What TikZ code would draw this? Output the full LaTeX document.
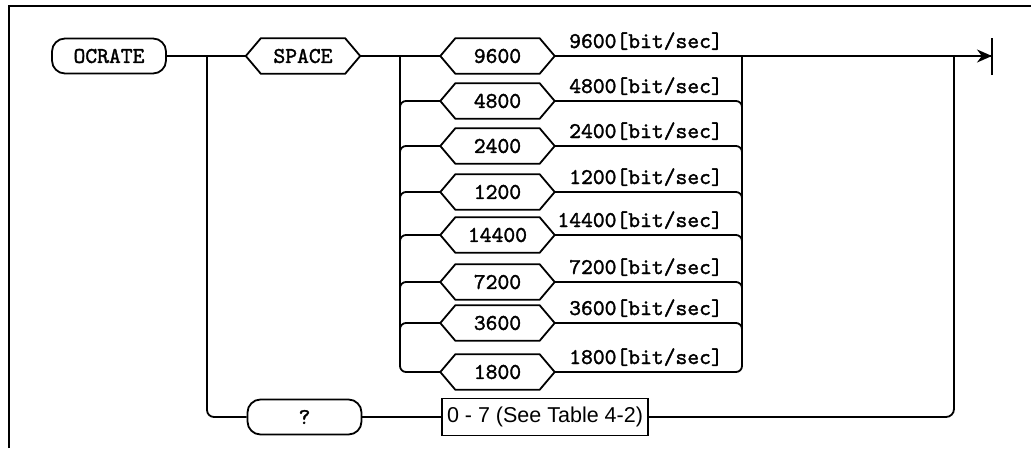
\documentclass[tikz,border=0pt]{standalone}
\usepackage{fontspec}
\setmainfont{Liberation Sans}
\newfontfamily\cour{lmmono10-regular}[Extension=.otf, FakeBold=1.6]
\usetikzlibrary{arrows.meta}
\newcommand\courfont{\cour\fontsize{22.5}{22.5}\selectfont}
\tikzset{
  line/.style={line width=1.8pt},
  term/.style={draw, line width=1.8pt, rounded corners=13pt, minimum width=114pt, minimum height=35pt, inner sep=0pt, font=\courfont},
  hexbox/.style={minimum width=114pt, minimum height=35pt, inner sep=0pt, font=\courfont},
  rate/.style={anchor=base east, inner sep=0pt, font=\courfont},
  plain/.style={draw, line width=1.8pt, minimum width=206pt, minimum height=37pt, inner sep=0pt, font=\fontsize{21.5}{21.5}\selectfont},
}
\newcommand\hexnode[3]{%
  \node[hexbox] (#1) at (#2) {#3};
  \draw[line, line join=miter] (#1.west) -- ([xshift=15pt]#1.north west) -- ([xshift=-15pt]#1.north east) -- (#1.east) -- ([xshift=-15pt]#1.south east) -- ([xshift=15pt]#1.south west) -- cycle;
}
\begin{document}
\begin{tikzpicture}[x=1pt,y=-1pt]
\useasboundingbox (0,0) rectangle (1031,448);
% frame
\draw[line width=1.5pt] (9,448) -- (9,6) -- (1031,6);
% start and first choice
\node[term] (ocrate) at (109,56) {OCRATE};
\hexnode{space}{303,56}{SPACE}
\node[term] (query) at (304.5,417) {?};
\node[plain] (table) at (545,417) {0 - 7 (See Table 4-2)};
% rates
\hexnode{r9600}{497.5,56}{9600}
\hexnode{r4800}{497.5,101}{4800}
\hexnode{r2400}{497.5,146}{2400}
\hexnode{r1200}{497.5,192}{1200}
\hexnode{r14400}{497.5,235}{14400}
\hexnode{r7200}{497.5,282}{7200}
\hexnode{r3600}{497.5,323}{3600}
\hexnode{r1800}{497.5,372}{1800}
\node[rate] (l9600) at (723,48) {9600[bit/sec]};
\node[rate] (l4800) at (723,93) {4800[bit/sec]};
\node[rate] (l2400) at (723,138) {2400[bit/sec]};
\node[rate] (l1200) at (723,184) {1200[bit/sec]};
\node[rate] (l14400) at (723,227) {14400[bit/sec]};
\node[rate] (l7200) at (723,274) {7200[bit/sec]};
\node[rate] (l3600) at (723,315) {3600[bit/sec]};
\node[rate] (l1800) at (723,364) {1800[bit/sec]};
% junctions
\coordinate (ja) at (207,56);
\coordinate (jb) at (400,56);
\coordinate (jc) at (742,56);
\coordinate (jd) at (954,56);
\coordinate (endp) at (992,56);
% main line
\draw[line] (ocrate.east) -- (space.west);
\draw[line] (space.east) -- (r9600.west);
\draw[line] (r9600.east) -- (endp);
\draw[line, -{Stealth[length=15pt,width=13pt]}] (jd) -- (endp);
\draw[line] ([yshift=-19pt]endp) -- ([yshift=18pt]endp);
% query branch
\draw[line, rounded corners=7pt] (ja) |- (query.west);
\draw[line] (query.east) -- (table.west);
\draw[line, rounded corners=8pt] (table.east) -| (jd);
% rate branches, left side
\draw[line, rounded corners=6pt] (jb) |- (r1800.west);
\foreach \n in {r4800,r2400,r1200,r14400,r7200,r3600}{
  \draw[line, rounded corners=6pt] ([yshift=-20pt]jb |- \n.west) |- (\n.west);
  \draw[line, rounded corners=6pt] (\n.east) -| ([yshift=-20pt]jc |- \n.east);
}
\draw[line, rounded corners=6pt] (r1800.east) -| (jc);
\end{tikzpicture}
\end{document}
